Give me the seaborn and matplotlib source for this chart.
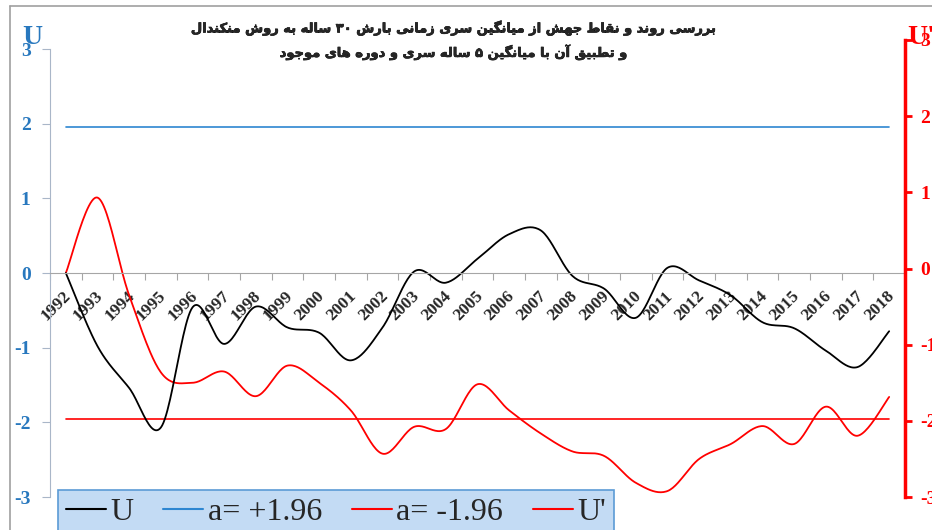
import re
import numpy as np
import pandas as pd
import matplotlib
matplotlib.use('Agg')
import matplotlib.pyplot as plt
import matplotlib.patheffects as pe
import seaborn as sns
from matplotlib.transforms import ScaledTranslation
from matplotlib.lines import Line2D

# داده ها
years = list(range(1992, 2019))
u = [0.0, -0.98, -1.54, -2.07, -0.46, -0.95, -0.45, -0.73, -0.80, -1.17, -0.73, 0.02, -0.13,
     0.19, 0.52, 0.57, -0.04, -0.21, -0.60, 0.07, -0.10, -0.30, -0.66, -0.74, -1.04, -1.26, -0.78]
u_prime = [0.0, 1.01, -0.30, -1.33, -1.47, -1.32, -1.65, -1.24, -1.47, -1.84, -2.42, -2.06, -2.09,
           -1.49, -1.84, -2.15, -2.39, -2.45, -2.81, -2.92, -2.49, -2.29, -2.05, -2.29, -1.79, -2.18, -1.66]
upper = 1.96
lower = -1.96
legend_labels = ['U', 'a= +1.96', 'a= -1.96', "U'"]
title_lines = ['بررسی روند و نقاط جهش از میانگین سری زمانی بارش ۳۰ ساله به روش منکندال',
               'و تطبیق آن با میانگین ۵ ساله سری و دوره های موجود']

BLUE_TXT = '#2878BE'
BLUE_LINE = '#2E86D1'
RED = '#FF0000'

# شکل دهی حروف فارسی (matplotlib خودش انجام نمی دهد)
forms = {
    'ا': ('\uFE8D', '\uFE8E', None, None),
    'آ': ('\uFE81', '\uFE82', None, None),
    'ب': ('\uFE8F', '\uFE90', '\uFE91', '\uFE92'),
    'ت': ('\uFE95', '\uFE96', '\uFE97', '\uFE98'),
    'ج': ('\uFE9D', '\uFE9E', '\uFE9F', '\uFEA0'),
    'د': ('\uFEA9', '\uFEAA', None, None),
    'ر': ('\uFEAD', '\uFEAE', None, None),
    'ز': ('\uFEAF', '\uFEB0', None, None),
    'س': ('\uFEB1', '\uFEB2', '\uFEB3', '\uFEB4'),
    'ش': ('\uFEB5', '\uFEB6', '\uFEB7', '\uFEB8'),
    'ط': ('\uFEC1', '\uFEC2', '\uFEC3', '\uFEC4'),
    'ق': ('\uFED5', '\uFED6', '\uFED7', '\uFED8'),
    'ک': ('\uFB8E', '\uFB8F', '\uFB90', '\uFB91'),
    'گ': ('\uFB92', '\uFB93', '\uFB94', '\uFB95'),
    'ل': ('\uFEDD', '\uFEDE', '\uFEDF', '\uFEE0'),
    'م': ('\uFEE1', '\uFEE2', '\uFEE3', '\uFEE4'),
    'ن': ('\uFEE5', '\uFEE6', '\uFEE7', '\uFEE8'),
    'ه': ('\uFEE9', '\uFEEA', '\uFEEB', '\uFEEC'),
    'و': ('\uFEED', '\uFEEE', None, None),
    'ی': ('\uFBFC', '\uFBFD', '\uFBFE', '\uFBFF'),
}


def shape(text):
    out = []
    for i, c in enumerate(text):
        if c not in forms:
            out.append(c)
            continue
        iso, fin, ini, med = forms[c]
        prev = text[i - 1] if i > 0 else None
        nxt = text[i + 1] if i + 1 < len(text) else None
        jp = prev in forms and forms[prev][2] is not None
        jn = ini is not None and nxt in forms
        out.append(med if jp and jn else fin if jp else ini if jn else iso)
    runs = re.findall(r'[0-9\u06F0-\u06F9]+|[^0-9\u06F0-\u06F9]', ''.join(out))
    return ''.join(reversed(runs))


def smooth(y, n=24):
    # منحنی هموار شبیه اکسل (Catmull-Rom)
    y = np.asarray(y, float)
    x = np.arange(len(y), dtype=float)
    px, py = [], []
    for i in range(len(y) - 1):
        x0, y0 = (x[i - 1], y[i - 1]) if i > 0 else (x[i], y[i])
        x3, y3 = (x[i + 2], y[i + 2]) if i + 2 < len(y) else (x[i + 1], y[i + 1])
        c1 = (x[i] + (x[i + 1] - x0) / 6, y[i] + (y[i + 1] - y0) / 6)
        c2 = (x[i + 1] - (x3 - x[i]) / 6, y[i + 1] - (y3 - y[i]) / 6)
        t = np.linspace(0, 1, n, endpoint=(i == len(y) - 2))
        b = [(1 - t) ** 3, 3 * (1 - t) ** 2 * t, 3 * (1 - t) * t ** 2, t ** 3]
        px.append(b[0] * x[i] + b[1] * c1[0] + b[2] * c2[0] + b[3] * x[i + 1])
        py.append(b[0] * y[i] + b[1] * c1[1] + b[2] * c2[1] + b[3] * y[i + 1])
    return np.concatenate(px), np.concatenate(py)


sns.set_style('white')
plt.rcParams['font.family'] = ['Liberation Serif', 'DejaVu Serif']
plt.rcParams['axes.unicode_minus'] = False

W, H = 932, 530
fig = plt.figure(figsize=(W / 100, H / 100), dpi=100)
ax = fig.add_axes([50 / W, 33 / H, 855 / W, 448 / H])

idx = np.arange(len(years))
sx, su = smooth(u)
_, sup = smooth(u_prime)
df_s = pd.DataFrame({'x': sx, 'U': su, 'Up': sup})
df_h = pd.DataFrame({'x': idx, 'hi': [upper] * len(years), 'lo': [lower] * len(years)})

sns.lineplot(data=df_h, x='x', y='hi', ax=ax, color=BLUE_LINE, lw=1.2, sort=False, estimator=None)
sns.lineplot(data=df_h, x='x', y='lo', ax=ax, color=RED, lw=1.2, sort=False, estimator=None)
sns.lineplot(data=df_s, x='x', y='Up', ax=ax, color=RED, lw=1.3, sort=False, estimator=None)
sns.lineplot(data=df_s, x='x', y='U', ax=ax, color='black', lw=1.3, sort=False, estimator=None)

ax.set_xlim(-0.5, len(years) - 0.5)
ax.set_ylim(-3, 3)
ax.set_xlabel('')
ax.set_ylabel('')
ax.patch.set_alpha(0)

for s in ['top', 'right']:
    ax.spines[s].set_visible(False)
ax.spines['bottom'].set_position(('data', 0))
ax.spines['bottom'].set_color('#A6A6A6')
ax.spines['left'].set_color('#A9B6C8')

ax.set_xticks(np.arange(len(years) + 1) - 0.5)
ax.set_xticklabels([])
ax.set_xticks(idx, [str(y) for y in years], minor=True)
ax.tick_params(axis='x', which='major', direction='out', length=5, color='#A6A6A6', bottom=True)
ax.tick_params(axis='x', which='minor', length=0, pad=15)
for lab in ax.get_xticklabels(minor=True):
    lab.set_rotation(45)
    lab.set_ha('right')
    lab.set_va('center')
    lab.set_rotation_mode('anchor')
    lab.set_fontsize(12.5)
    lab.set_fontweight('bold')
    lab.set_transform(lab.get_transform() + ScaledTranslation(3 / 100, 0, fig.dpi_scale_trans))

ax.set_yticks(range(-3, 4))
ax.tick_params(axis='y', direction='out', length=6, color='#A9B6C8', left=True,
               labelcolor=BLUE_TXT, labelsize=14, pad=8)
for lab in ax.get_yticklabels():
    lab.set_fontweight('bold')

# محور دوم (راست)
ax2 = fig.add_axes([50 / W, 33 / H, 855 / W, 457 / H])
ax2.patch.set_alpha(0)
ax2.set_ylim(-3, 3)
ax2.set_xticks([])
for s in ['top', 'left', 'bottom']:
    ax2.spines[s].set_visible(False)
ax2.spines['right'].set_color(RED)
ax2.spines['right'].set_linewidth(2.5)
ax2.yaxis.tick_right()
ax2.set_yticks(range(-3, 4))
ax2.tick_params(axis='y', direction='out', length=5, width=2, color=RED,
                labelcolor=RED, labelsize=14, pad=6)
for lab in ax2.get_yticklabels():
    lab.set_fontweight('bold')

fig.text(22 / W, 1 - 37 / H, 'U', color=BLUE_TXT, fontsize=20, fontweight='bold', va='center', ha='left')
fig.text(907 / W, 1 - 37 / H, "U'", color=RED, fontsize=20, fontweight='bold', va='center', ha='left')

# عنوان
for k, yy in enumerate([28, 52]):
    fig.text(453 / W, 1 - yy / H, shape(title_lines[k]), ha='center', va='center', fontsize=9.4,
             fontweight='bold', family=['DejaVu Sans'],
             path_effects=[pe.withStroke(linewidth=0.45, foreground='black')])

# قاب بیرونی
fig.add_artist(Line2D([10 / W, 10 / W], [0, 1 - 6 / H], color='#A0A0A0', lw=1.2, transform=fig.transFigure))
fig.add_artist(Line2D([10 / W, 1], [1 - 6 / H, 1 - 6 / H], color='#A0A0A0', lw=1.2, transform=fig.transFigure))

handles = [Line2D([], [], color='black', lw=1.5),
           Line2D([], [], color=BLUE_LINE, lw=1.5),
           Line2D([], [], color=RED, lw=1.5),
           Line2D([], [], color=RED, lw=1.5)]
leg = fig.legend(handles, legend_labels, loc='upper left', bbox_to_anchor=(58 / W, 1 - 490 / H),
                 ncol=4, fontsize=23, frameon=True, fancybox=False, borderaxespad=0,
                 handlelength=1.25, handletextpad=0.15, columnspacing=0.92, borderpad=0.25)
leg.get_frame().set_facecolor('#C3DBF4')
leg.get_frame().set_edgecolor('#5B9BD5')
leg.get_frame().set_linewidth(1.2)
leg.get_frame().set_alpha(1)

fig.savefig('out.png', dpi=100)
